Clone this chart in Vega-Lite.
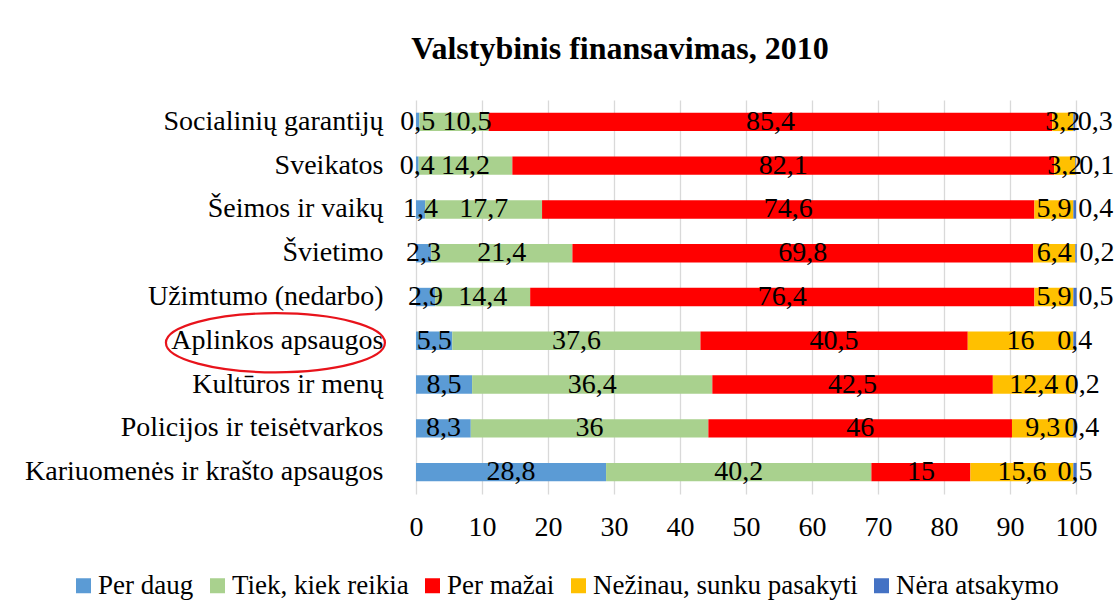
{
  "$schema": "https://vega.github.io/schema/vega-lite/v6.json",
  "width": 660,
  "height": 394,
  "autosize": {"type": "none"},
  "padding": {"left": 416, "top": 100, "right": 44, "bottom": 122},
  "background": "white",
  "title": {
    "text": "Valstybinis finansavimas, 2010",
    "fontSize": 32,
    "fontWeight": "bold",
    "font": "Liberation Serif",
    "color": "black",
    "anchor": "middle",
    "dx": -126,
    "offset": 34
  },
  "config": {
    "font": "Liberation Serif",
    "view": {"stroke": null},
    "locale": {"number": {"decimal": ",", "thousands": " ", "grouping": [3], "currency": ["", " €"]}}
  },
  "datasets": {
    "bars": [
      {"cat": "Socialinių garantijų", "s": "Per daug", "k": 1, "v": 0.5},
      {"cat": "Socialinių garantijų", "s": "Tiek, kiek reikia", "k": 2, "v": 10.5},
      {"cat": "Socialinių garantijų", "s": "Per mažai", "k": 3, "v": 85.4},
      {"cat": "Socialinių garantijų", "s": "Nežinau, sunku pasakyti", "k": 4, "v": 3.2},
      {"cat": "Socialinių garantijų", "s": "Nėra atsakymo", "k": 5, "v": 0.3},
      {"cat": "Sveikatos", "s": "Per daug", "k": 1, "v": 0.4},
      {"cat": "Sveikatos", "s": "Tiek, kiek reikia", "k": 2, "v": 14.2},
      {"cat": "Sveikatos", "s": "Per mažai", "k": 3, "v": 82.1},
      {"cat": "Sveikatos", "s": "Nežinau, sunku pasakyti", "k": 4, "v": 3.2},
      {"cat": "Sveikatos", "s": "Nėra atsakymo", "k": 5, "v": 0.1},
      {"cat": "Šeimos ir vaikų", "s": "Per daug", "k": 1, "v": 1.4},
      {"cat": "Šeimos ir vaikų", "s": "Tiek, kiek reikia", "k": 2, "v": 17.7},
      {"cat": "Šeimos ir vaikų", "s": "Per mažai", "k": 3, "v": 74.6},
      {"cat": "Šeimos ir vaikų", "s": "Nežinau, sunku pasakyti", "k": 4, "v": 5.9},
      {"cat": "Šeimos ir vaikų", "s": "Nėra atsakymo", "k": 5, "v": 0.4},
      {"cat": "Švietimo", "s": "Per daug", "k": 1, "v": 2.3},
      {"cat": "Švietimo", "s": "Tiek, kiek reikia", "k": 2, "v": 21.4},
      {"cat": "Švietimo", "s": "Per mažai", "k": 3, "v": 69.8},
      {"cat": "Švietimo", "s": "Nežinau, sunku pasakyti", "k": 4, "v": 6.4},
      {"cat": "Švietimo", "s": "Nėra atsakymo", "k": 5, "v": 0.2},
      {"cat": "Užimtumo (nedarbo)", "s": "Per daug", "k": 1, "v": 2.9},
      {"cat": "Užimtumo (nedarbo)", "s": "Tiek, kiek reikia", "k": 2, "v": 14.4},
      {"cat": "Užimtumo (nedarbo)", "s": "Per mažai", "k": 3, "v": 76.4},
      {"cat": "Užimtumo (nedarbo)", "s": "Nežinau, sunku pasakyti", "k": 4, "v": 5.9},
      {"cat": "Užimtumo (nedarbo)", "s": "Nėra atsakymo", "k": 5, "v": 0.5},
      {"cat": "Aplinkos apsaugos", "s": "Per daug", "k": 1, "v": 5.5},
      {"cat": "Aplinkos apsaugos", "s": "Tiek, kiek reikia", "k": 2, "v": 37.6},
      {"cat": "Aplinkos apsaugos", "s": "Per mažai", "k": 3, "v": 40.5},
      {"cat": "Aplinkos apsaugos", "s": "Nežinau, sunku pasakyti", "k": 4, "v": 16},
      {"cat": "Aplinkos apsaugos", "s": "Nėra atsakymo", "k": 5, "v": 0.4},
      {"cat": "Kultūros ir menų", "s": "Per daug", "k": 1, "v": 8.5},
      {"cat": "Kultūros ir menų", "s": "Tiek, kiek reikia", "k": 2, "v": 36.4},
      {"cat": "Kultūros ir menų", "s": "Per mažai", "k": 3, "v": 42.5},
      {"cat": "Kultūros ir menų", "s": "Nežinau, sunku pasakyti", "k": 4, "v": 12.4},
      {"cat": "Kultūros ir menų", "s": "Nėra atsakymo", "k": 5, "v": 0.2},
      {"cat": "Policijos ir teisėtvarkos", "s": "Per daug", "k": 1, "v": 8.3},
      {"cat": "Policijos ir teisėtvarkos", "s": "Tiek, kiek reikia", "k": 2, "v": 36},
      {"cat": "Policijos ir teisėtvarkos", "s": "Per mažai", "k": 3, "v": 46},
      {"cat": "Policijos ir teisėtvarkos", "s": "Nežinau, sunku pasakyti", "k": 4, "v": 9.3},
      {"cat": "Policijos ir teisėtvarkos", "s": "Nėra atsakymo", "k": 5, "v": 0.4},
      {"cat": "Kariuomenės ir krašto apsaugos", "s": "Per daug", "k": 1, "v": 28.8},
      {"cat": "Kariuomenės ir krašto apsaugos", "s": "Tiek, kiek reikia", "k": 2, "v": 40.2},
      {"cat": "Kariuomenės ir krašto apsaugos", "s": "Per mažai", "k": 3, "v": 15},
      {"cat": "Kariuomenės ir krašto apsaugos", "s": "Nežinau, sunku pasakyti", "k": 4, "v": 15.6},
      {"cat": "Kariuomenės ir krašto apsaugos", "s": "Nėra atsakymo", "k": 5, "v": 0.5}
    ],
    "mark": [
      {"cat": "Aplinkos apsaugos", "v": -21.3}
    ]
  },
  "encoding": {
    "y": {
      "field": "cat",
      "type": "nominal",
      "sort": null,
      "scale": {"paddingInner": 0.58, "paddingOuter": 0.29},
      "axis": {
        "title": null,
        "domain": false,
        "ticks": false,
        "grid": false,
        "labelFontSize": 28,
        "labelColor": "black",
        "labelPadding": 33,
        "labelLimit": 0
      }
    }
  },
  "layer": [
    {
      "data": {"name": "bars"},
      "mark": {"type": "bar"},
      "encoding": {
        "x": {
          "field": "v",
          "type": "quantitative",
          "stack": "zero",
          "scale": {"domain": [0, 100], "nice": false},
          "axis": {
            "title": null,
            "values": [0, 10, 20, 30, 40, 50, 60, 70, 80, 90, 100],
            "domain": false,
            "ticks": false,
            "grid": true,
            "gridColor": "#D9D9D9",
            "gridWidth": 1.3,
            "labelFontSize": 28,
            "labelColor": "black",
            "labelPadding": 19,
            "labelFlush": false
          }
        },
        "color": {
          "field": "s",
          "type": "nominal",
          "scale": {
            "domain": ["Per daug", "Tiek, kiek reikia", "Per mažai", "Nežinau, sunku pasakyti", "Nėra atsakymo"],
            "range": ["#5B9BD5", "#A9D18E", "#FF0000", "#FFC000", "#4472C4"]
          },
          "legend": {
            "title": null,
            "orient": "none",
            "direction": "horizontal",
            "legendX": -346,
            "legendY": 472,
            "padding": 0,
            "symbolType": "square",
            "symbolSize": 225,
            "symbolStrokeWidth": 0,
            "labelFontSize": 27,
            "labelColor": "black",
            "labelOffset": 1,
            "columnPadding": 10,
            "labelLimit": 0
          }
        },
        "order": {"field": "k", "type": "quantitative"}
      }
    },
    {
      "data": {"name": "bars"},
      "mark": {"type": "text", "fontSize": 28, "color": "black", "align": "center", "baseline": "middle"},
      "encoding": {
        "x": {"field": "v", "type": "quantitative", "stack": "zero", "bandPosition": 0.5},
        "text": {
          "condition": {"test": "(datum.k < 5 && !(datum.k == 2 && datum.cat == 'Socialinių garantijų')) || datum.cat == 'Aplinkos apsaugos' || datum.cat == 'Kariuomenės ir krašto apsaugos'", "field": "v", "type": "quantitative", "format": ".1~f"},
          "value": ""
        },
        "detail": {"field": "s"},
        "order": {"field": "k", "type": "quantitative"}
      }
    },
    {
      "data": {"name": "bars"},
      "mark": {"type": "text", "fontSize": 28, "color": "black", "align": "center", "baseline": "middle", "dx": 13},
      "encoding": {
        "x": {"field": "v", "type": "quantitative", "stack": "zero", "bandPosition": 0.5},
        "text": {
          "condition": {"test": "datum.k == 2 && datum.cat == 'Socialinių garantijų'", "field": "v", "type": "quantitative", "format": ".1~f"},
          "value": ""
        },
        "detail": {"field": "s"},
        "order": {"field": "k", "type": "quantitative"}
      }
    },
    {
      "data": {"name": "bars"},
      "mark": {"type": "text", "fontSize": 28, "color": "black", "align": "center", "baseline": "middle", "dx": 21},
      "encoding": {
        "x": {"field": "v", "type": "quantitative", "stack": "zero", "bandPosition": 0.5},
        "text": {
          "condition": {"test": "datum.k == 5 && indexof(['Socialinių garantijų', 'Sveikatos', 'Šeimos ir vaikų', 'Švietimo', 'Užimtumo (nedarbo)'], datum.cat) >= 0", "field": "v", "type": "quantitative", "format": ".1~f"},
          "value": ""
        },
        "detail": {"field": "s"},
        "order": {"field": "k", "type": "quantitative"}
      }
    },
    {
      "data": {"name": "bars"},
      "mark": {"type": "text", "fontSize": 28, "color": "black", "align": "center", "baseline": "middle", "dx": 7},
      "encoding": {
        "x": {"field": "v", "type": "quantitative", "stack": "zero", "bandPosition": 0.5},
        "text": {
          "condition": {"test": "datum.k == 5 && (datum.cat == 'Kultūros ir menų' || datum.cat == 'Policijos ir teisėtvarkos')", "field": "v", "type": "quantitative", "format": ".1~f"},
          "value": ""
        },
        "detail": {"field": "s"},
        "order": {"field": "k", "type": "quantitative"}
      }
    },
    {
      "data": {"name": "mark"},
      "mark": {
        "type": "point",
        "shape": "M-1,0C-1,-0.149,-0.552,-0.27,0,-0.27C0.552,-0.27,1,-0.149,1,0C1,0.149,0.552,0.27,0,0.27C-0.552,0.27,-1,0.149,-1,0Z",
        "size": 47961,
        "filled": false,
        "stroke": "#E8131B",
        "strokeWidth": 2.2,
        "opacity": 1,
        "yOffset": 2
      },
      "encoding": {
        "x": {"field": "v", "type": "quantitative"}
      }
    }
  ]
}
